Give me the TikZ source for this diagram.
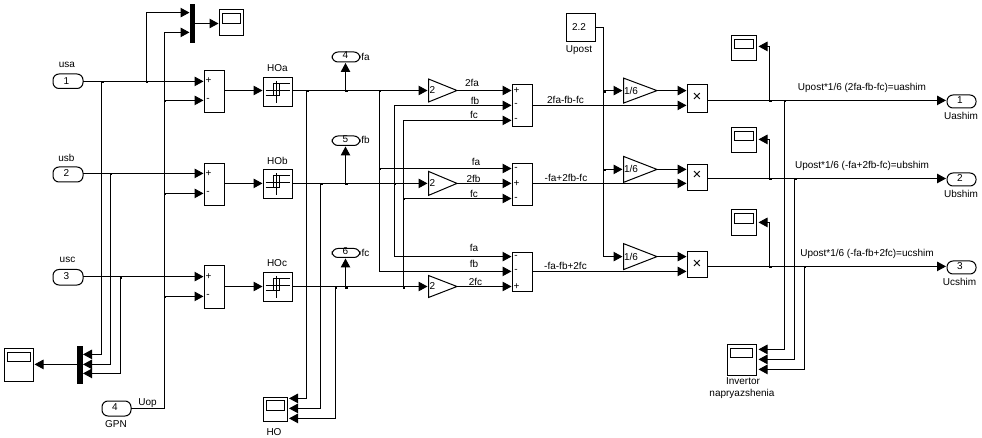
\documentclass[tikz,border=0pt]{standalone}
\usepackage{fontspec}
\setmainfont{Liberation Sans}
\usetikzlibrary{arrows.meta,fit}
\tikzset{
  blockbox/.style={draw=black,line width=1pt,inner sep=0pt,outer sep=0pt,rectangle},
  pill/.style={blockbox,rounded corners=6pt},
  solidbar/.style={blockbox,fill=black},
  ghostbox/.style={inner sep=0pt,outer sep=0pt,rectangle},
  sig/.style={draw=black,line width=1pt,-{Triangle[length=9pt,width=9.5pt]},shorten >=1pt},
  wire/.style={draw=black,line width=1pt},
  thinline/.style={draw=black,line width=0.9pt},
  lbl/.style={inner sep=0pt,outer sep=0pt,font=\fontsize{10}{11}\selectfont},
  timeslbl/.style={inner sep=0pt,outer sep=0pt,font=\fontsize{15}{15}\selectfont},
}
\newcommand\mkbox[6][blockbox]{\path (#3,#4) coordinate (#2-a) (#5,#6) coordinate (#2-b);
  \node[#1,fit=(#2-a)(#2-b)] (#2) {};}
% name, x1, x2, row, half height
\newcommand\mkgain[5]{\path (#2,#4-#5) coordinate (#1-a) (#3,#4+#5) coordinate (#1-b);
  \node[ghostbox,fit=(#1-a)(#1-b)] (#1) {};
  \draw[wire,line join=miter] (#1.north west) -- (#1.east) -- (#1.south west) -- cycle;}
% junction dot
\newcommand\jn[3]{\coordinate (#1) at (#2,#3); \fill[black] (#2-0.2,#3) rectangle (#2+2,#3+2);}
\newcommand\relayicon[1]{\begin{scope}[shift={(#1.center)}]
  \draw[thinline] (-12.5,-1.5) -- (11.5,-1.5) (-1.2,-11) -- (-1.2,11);
  \draw[thinline] (-12.5,3.3) -- (1.8,3.3) -- (1.8,-8.7) -- (-4.2,-8.7) -- (-4.2,3.3);
  \draw[thinline] (-4.2,-8.7) -- (11.5,-8.7);
  \end{scope}}
% name, x1,y1,x2,y2 ; inner screen drawn relative to top of scope
\newcommand\mkscope[5]{\mkbox{#1}{#2}{#3}{#4}{#5}
  \draw[thinline] (#2+3.3,#3+3.7) rectangle (#4-3.3,#3+13);}
\begin{document}
\begin{tikzpicture}[x=1pt,y=-1pt]
\useasboundingbox (0,0) rectangle (982,438);

% ---------- ports ----------
\mkbox[pill]{usa}{53}{74}{83}{88.5}
\mkbox[pill]{usb}{53}{167}{83}{182}
\mkbox[pill]{usc}{53}{269.5}{83}{285}
\mkbox[pill]{gpn}{102}{401}{131}{416}
\mkbox[pill]{ofa}{332}{52}{360}{62}
\mkbox[pill]{ofb}{332}{136}{360}{145.5}
\mkbox[pill]{ofc}{332}{248.5}{360}{257.5}
\mkbox[pill]{oua}{947}{95}{976}{108}
\mkbox[pill]{oub}{947}{173}{976}{186}
\mkbox[pill]{ouc}{947}{261}{976}{274}

% ---------- muxes ----------
\mkbox[solidbar]{muxt}{190.5}{4.5}{194}{42.5}
\mkbox[solidbar]{muxb}{77.5}{346.5}{82}{383}

% ---------- scopes ----------
\mkscope{sct}{219.5}{10}{243.5}{36}
\mkscope{scl}{4.5}{348.5}{33.5}{381.5}
\mkscope{scho}{263.5}{397}{287.5}{421.5}
\mkscope{sca}{731.5}{35.5}{756.5}{60.5}
\mkscope{scb}{731.5}{127.5}{756.5}{153}
\mkscope{scc}{731.5}{210}{756.5}{236}
\mkscope{scinv}{727}{344.5}{756}{375.5}

% ---------- sums ----------
\mkbox{sa}{204.5}{70.5}{224.5}{113}
\mkbox{sb}{204.5}{163.5}{224.5}{206}
\mkbox{sc}{204.5}{265.5}{224.5}{308}
\mkbox{s1}{512.5}{85}{532}{126.5}
\mkbox{s2}{512.5}{164}{532}{205.5}
\mkbox{s3}{512.5}{252.5}{532}{291}

% ---------- relays ----------
\mkbox{hoa}{263.5}{77.5}{292.5}{106.5}
\mkbox{hob}{263.5}{169.5}{292.5}{199}
\mkbox{hoc}{263.5}{272.5}{292.5}{301.5}
\relayicon{hoa}
\relayicon{hob}
\relayicon{hoc}

% ---------- gains ----------
\mkgain{ga}{428.5}{457}{90.5}{11.5}
\mkgain{gb}{428.5}{457}{183.4}{12}
\mkgain{gc}{428.5}{457}{286.5}{11}
\mkgain{ka}{623.5}{657}{90.6}{12.5}
\mkgain{kb}{623.5}{657}{169.4}{13}
\mkgain{kc}{623.5}{657}{256.6}{13}

% ---------- constant and products ----------
\mkbox{cst}{566}{14}{595.5}{42}
\mkbox{pra}{687.5}{84.5}{707.5}{113}
\mkbox{prb}{687.5}{164.5}{707.5}{190.5}
\mkbox{prc}{687.5}{251.5}{707.5}{278}

% ---------- junctions ----------
\jn{ja1}{101.6}{81.4}
\jn{ja2}{146.4}{81.4}
\jn{jb1}{110.4}{173.4}
\jn{jc1}{120.4}{276.6}
\jn{ju1}{164.4}{100.4}
\jn{ju2}{164.4}{193.4}
\jn{ju3}{164.4}{296.4}
\jn{jh1}{306.5}{90.5}
\jn{jh2}{320.5}{183.4}
\jn{jh3}{335.4}{286.5}
\jn{jo1}{345.5}{90.5}
\jn{jo2}{345.5}{183.4}
\jn{jo3}{345.5}{286.5}
\jn{js1}{379.4}{90.5}
\jn{js1b}{379.4}{168.5}
\jn{js2}{394.4}{183.4}
\jn{js3}{403.4}{286.5}
\jn{js3b}{403.4}{198.5}
\jn{jk1}{603.5}{90.6}
\jn{jk2}{603.5}{169.4}
\jn{jv1}{769.5}{100.4}
\jn{jv2}{769.5}{178.5}
\jn{jv3}{769.5}{266.4}
\jn{jw1}{784.4}{100.4}
\jn{jw2}{794.6}{178.5}
\jn{jw3}{804.4}{266.4}

% ---------- port targets and bends ----------
\coordinate (muxt1) at (190.5,12.6);
\coordinate (muxt2) at (190.5,32.4);
\coordinate (muxb1) at (82,354.4);
\coordinate (muxb2) at (82,364.4);
\coordinate (muxb3) at (82,373.4);
\coordinate (hop1) at (288,398.4);
\coordinate (hop2) at (288,408.4);
\coordinate (hop3) at (288,418.4);
\coordinate (s1b) at (512.5,105.4);
\coordinate (s1c) at (512.5,120.4);
\coordinate (s3a) at (512.5,256.6);
\coordinate (s3b) at (512.5,271.4);
\coordinate (scap) at (757.5,46.4);
\coordinate (scbp) at (757.5,139.4);
\coordinate (sccp) at (757.5,222.4);
\coordinate (inv1) at (757.5,349.4);
\coordinate (inv2) at (757.5,359.4);
\coordinate (inv3) at (757.5,369.4);
\coordinate (bendg) at (164.4,32.4);
\coordinate (bendc) at (603.5,256.6);
\coordinate (rowc) at (603.5,27.4);
\coordinate (tpb) at (0,183.4);

% ---------- input side ----------
\draw[sig] (usa.east |- ja1) -- (ja1) -- (sa.west |- ja1);
\draw[sig] (usb.east |- jb1) -- (jb1) -- (sb.west |- jb1);
\draw[sig] (usc.east |- jc1) -- (jc1) -- (sc.west |- jc1);
\draw[sig] (ja2) |- (muxt1);
\draw[sig] (gpn.east |- 0,408.4) -| (bendg) -- (muxt2);
\draw[sig] (ju1) -- (sa.west |- ju1);
\draw[sig] (ju2) -- (sb.west |- ju2);
\draw[sig] (ju3) -- (sc.west |- ju3);
\draw[sig] (muxt.east) -- (sct.west |- muxt.east);
\draw[sig] (ja1) |- (muxb1);
\draw[sig] (jb1) |- (muxb2);
\draw[sig] (jc1) |- (muxb3);
\draw[sig] (muxb.west |- muxb2) -- (scl.east |- muxb2);

% ---------- sums to relays ----------
\draw[sig] (sa.east |- jh1) -- (hoa.west |- jh1);
\draw[sig] (sb.east |- jh2) -- (hob.west |- jh2);
\draw[sig] (sc.east |- jh3) -- (hoc.west |- jh3);

% ---------- relays to gains ----------
\draw[sig] (hoa.east |- jh1) -- (ga.west);
\draw[sig] (hob.east |- jh2) -- (gb.west);
\draw[sig] (hoc.east |- jh3) -- (gc.west);
\draw[sig] (jh1) |- (hop1);
\draw[sig] (jh2) |- (hop2);
\draw[sig] (jh3) |- (hop3);
\draw[sig] (jo1) -- (ofa.south -| jo1);
\draw[sig] (jo2) -- (ofb.south -| jo2);
\draw[sig] (jo3) -- (ofc.south -| jo3);

% ---------- cross wiring to the second sums ----------
\draw[sig] (ga.east) -- (s1.west |- ga.east);
\draw[sig] (gb.east) -- (s2.west |- gb.east);
\draw[sig] (gc.east) -- (s3.west |- gc.east);
\draw[sig] (js1) |- (s3b);
\draw[sig] (js1b) -- (s2.west |- js1b);
\draw[sig] (js2) |- (s1b);
\draw[sig] (js2) |- (s3a);
\draw[sig] (js3) |- (s1c);
\draw[sig] (js3b) -- (s2.west |- js3b);

% ---------- sums to products ----------
\draw[sig] (s1.east |- s1b) -- (pra.west |- s1b);
\draw[sig] (s2.east |- tpb) -- (prb.west |- tpb);
\draw[sig] (s3.east |- s3b) -- (prc.west |- s3b);

% ---------- constant and 1/6 gains ----------
\draw[wire] (cst.east |- rowc) -- (rowc);
\draw[sig] (rowc) -- (bendc) -- (kc.west);
\draw[sig] (jk1) -- (ka.west);
\draw[sig] (jk2) -- (kb.west);
\draw[sig] (ka.east) -- (pra.west |- ka.east);
\draw[sig] (kb.east) -- (prb.west |- kb.east);
\draw[sig] (kc.east) -- (prc.west |- kc.east);

% ---------- outputs ----------
\draw[sig] (pra.east |- jv1) -- (oua.west |- jv1);
\draw[sig] (prb.east |- jv2) -- (oub.west |- jv2);
\draw[sig] (prc.east |- jv3) -- (ouc.west |- jv3);
\draw[sig] (jv1) |- (scap);
\draw[sig] (jv2) |- (scbp);
\draw[sig] (jv3) |- (sccp);
\draw[sig] (jw1) |- (inv1);
\draw[sig] (jw2) |- (inv2);
\draw[sig] (jw3) |- (inv3);

% ---------- texts ----------
\node[lbl] (tusa) at (67,65) {usa};
\node[lbl] (tusb) at (66.5,158) {usb};
\node[lbl] (tusc) at (67.5,260) {usc};
\node[lbl] (tn1) at (66.5,81) {1};
\node[lbl] (tn2) at (66.5,173.5) {2};
\node[lbl] (tn3) at (66.5,276.5) {3};
\node[lbl] (tn4) at (115,407.5) {4};
\node[lbl] (tgpn) at (116,424) {GPN};
\node[lbl] (tuop) at (147.5,403) {Uop};
\node[lbl] (thoa) at (277.5,68) {HOa};
\node[lbl] (thob) at (277.5,161) {HOb};
\node[lbl] (thoc) at (277,263) {HOc};
\node[lbl] (tho) at (274,432) {HO};
\node[lbl] (to4) at (345.5,55.5) {4};
\node[lbl] (to5) at (345.5,139) {5};
\node[lbl] (to6) at (345.5,251.5) {6};
\node[lbl] (tfa) at (365.5,57) {fa};
\node[lbl] (tfb) at (365.5,140) {fb};
\node[lbl] (tfc) at (365.5,253) {fc};
% sum signs
\node[lbl] (ps1) at (208.5,81) {+};
\node[lbl] (ps2) at (208,100) {-};
\node[lbl] (ps3) at (208.5,173.5) {+};
\node[lbl] (ps4) at (208,193) {-};
\node[lbl] (ps5) at (208.5,276.5) {+};
\node[lbl] (ps6) at (208,296) {-};
\node[lbl] (qa1) at (516.5,91) {+};
\node[lbl] (qa2) at (516,105) {-};
\node[lbl] (qa3) at (516,120) {-};
\node[lbl] (qb1) at (516,168.5) {-};
\node[lbl] (qb2) at (516.5,183.5) {+};
\node[lbl] (qb3) at (516,198.5) {-};
\node[lbl] (qc1) at (516,256.5) {-};
\node[lbl] (qc2) at (516,271) {-};
\node[lbl] (qc3) at (516.5,286.5) {+};
% gain texts
\node[lbl] (tg1) at (432.5,90.5) {2};
\node[lbl] (tg2) at (432.5,183.5) {2};
\node[lbl] (tg3) at (432.5,286) {2};
\node[lbl] (tk1) at (631,91) {1/6};
\node[lbl] (tk2) at (631,169) {1/6};
\node[lbl] (tk3) at (631,256.5) {1/6};
\node[lbl] (tc) at (579,27) {2.2};
\node[lbl] (tup) at (579,50) {Upost};
\node[timeslbl] (tm1) at (697,97.5) {×};
\node[timeslbl] (tm2) at (697,175.5) {×};
\node[timeslbl] (tm3) at (697,264) {×};
% signal labels
\node[lbl] (w1) at (472,83) {2fa};
\node[lbl] (w2) at (475,100.5) {fb};
\node[lbl] (w3) at (474,115) {fc};
\node[lbl] (w4) at (565.5,99.5) {2fa-fb-fc};
\node[lbl] (w5) at (476,162) {fa};
\node[lbl] (w6) at (473.5,179) {2fb};
\node[lbl] (w7) at (474,194) {fc};
\node[lbl] (w8) at (566,178) {-fa+2fb-fc};
\node[lbl] (w9) at (474,248) {fa};
\node[lbl] (w10) at (474,263.5) {fb};
\node[lbl] (w11) at (475.5,282) {2fc};
\node[lbl] (w12) at (565.5,266) {-fa-fb+2fc};
% outputs
\node[lbl] (e1) at (862,88) {Upost*1/6 (2fa-fb-fc)=uashim};
\node[lbl] (e2) at (862,166) {Upost*1/6 (-fa+2fb-fc)=ubshim};
\node[lbl] (e3) at (867,254) {Upost*1/6 (-fa-fb+2fc)=ucshim};
\node[lbl] (o1) at (960,100.5) {1};
\node[lbl] (o2) at (960,178.5) {2};
\node[lbl] (o3) at (960,266) {3};
\node[lbl] (n1) at (961,115.5) {Uashim};
\node[lbl] (n2) at (961,193.5) {Ubshim};
\node[lbl] (n3) at (959.5,282) {Ucshim};
\node[lbl] (i1) at (743,381) {Invertor};
\node[lbl] (i2) at (742,394) {napryazshenia};
\end{tikzpicture}
\end{document}
